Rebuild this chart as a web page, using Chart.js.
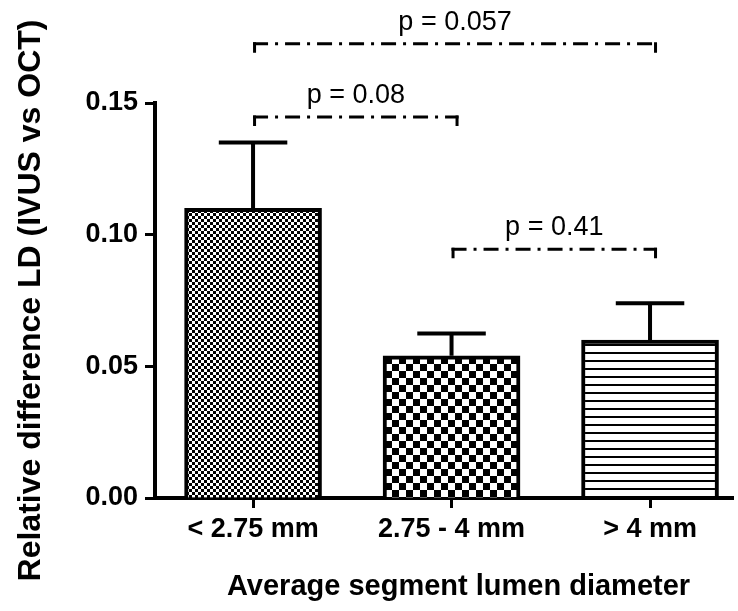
<!DOCTYPE html>
<html>
<head>
<meta charset="utf-8">
<script src="https://cdn.jsdelivr.net/npm/chart.js@4.4.0/dist/chart.umd.min.js"></script>
<style>
  html, body { margin: 0; padding: 0; background: #fff; }
</style>
</head>
<body>
<canvas id="myChart" width="738" height="611"></canvas>
<script>
var categorias = ['< 2.75 mm', '2.75 - 4 mm', '> 4 mm'];
var medias = [0.110, 0.054, 0.060];
var errores = [0.025, 0.0085, 0.014];
var yTicks = [0.00, 0.05, 0.10, 0.15];

// comparaciones entre grupos (indices de categoria), altura del corchete y texto
var pares = [[0, 1], [1, 2], [0, 2]];
var alturasP = [0.1447, 0.0945, 0.1725];
var textosP = ['p = 0.08', 'p = 0.41', 'p = 0.057'];
var tituloX = 'Average segment lumen diameter';

var fuente = "'Liberation Sans', Arial, sans-serif";
var ctx = document.getElementById('myChart');
var g = ctx.getContext('2d');

function patron(tipo) {
    var c = document.createElement('canvas');
    var p = c.getContext('2d');
    if (tipo === 'rayas') {
        c.width = 8; c.height = 8;
        p.fillStyle = '#fff'; p.fillRect(0, 0, 8, 8);
        p.fillStyle = '#000'; p.fillRect(0, 0, 8, 2);
    } else {
        var s = tipo === 'fino' ? 3 : 7;
        c.width = s * 2; c.height = s * 2;
        p.fillStyle = '#fff'; p.fillRect(0, 0, s * 2, s * 2);
        p.fillStyle = '#000';
        p.fillRect(0, 0, s, s);
        p.fillRect(s, s, s, s);
    }
    return g.createPattern(c, 'repeat');
}

// barras de error (solo hacia arriba), corchetes con valor p y titulo del eje x
var extras = {
    id: 'extras',
    afterDatasetsDraw: function(chart) {
        var c = chart.ctx, xs = chart.scales.x, ys = chart.scales.y;
        var meta = chart.getDatasetMeta(0);
        c.save();
        c.strokeStyle = '#000';
        c.lineWidth = 4;
        c.lineCap = 'butt';
        medias.forEach(function(m, i) {
            var bar = meta.data[i];
            var half = bar.width / 4;
            var tope = ys.getPixelForValue(m + errores[i]);
            c.beginPath();
            c.moveTo(bar.x, ys.getPixelForValue(m));
            c.lineTo(bar.x, tope);
            c.moveTo(bar.x - half, tope);
            c.lineTo(bar.x + half, tope);
            c.stroke();
        });

        c.lineWidth = 3;
        c.fillStyle = '#000';
        c.font = '27px ' + fuente;
        c.textAlign = 'center';
        c.textBaseline = 'alphabetic';
        pares.forEach(function(par, k) {
            var x1 = xs.getPixelForValue(par[0]);
            var x2 = xs.getPixelForValue(par[1]) + 7;
            var yy = ys.getPixelForValue(alturasP[k]);
            c.setLineDash([15, 7, 3, 7]);
            c.beginPath();
            c.moveTo(x1, yy);
            c.lineTo(x2, yy);
            c.stroke();
            c.setLineDash([]);
            c.beginPath();
            c.moveTo(x1 + 1.5, yy - 1.5); c.lineTo(x1 + 1.5, yy + 9);
            c.moveTo(x2 - 1.5, yy - 1.5); c.lineTo(x2 - 1.5, yy + 9);
            c.stroke();
            c.fillText(textosP[k], (x1 + x2) / 2, yy - 14);
        });

        c.font = 'bold 29px ' + fuente;
        c.fillText(tituloX, (xs.getPixelForValue(0) + xs.getPixelForValue(2)) / 2 + 7, 595);
        c.restore();
    }
};

var myBarChart = new Chart(ctx, {
    type: 'bar',
    data: {
        datasets: [{
            data: medias.map(function(v, i) { return {x: i, y: v}; }),
            backgroundColor: [patron('fino'), patron('grueso'), patron('rayas')],
            borderColor: '#000',
            borderWidth: 4,
            barThickness: 137
        }]
    },
    plugins: [extras],
    options: {
        responsive: false,
        animation: false,
        layout: { padding: { top: 103, right: 5, left: 0, bottom: 0 } },
        plugins: { legend: { display: false }, tooltip: { enabled: false } },
        scales: {
            x: {
                type: 'linear',
                offset: false,
                min: -0.494,
                max: 2.418,
                z: 1,
                afterFit: function(s) { s.height = 113; },
                afterBuildTicks: function(s) {
                    s.ticks = categorias.map(function(c, i) { return {value: i}; });
                },
                border: { display: true, color: '#000', width: 4 },
                grid: { display: true, offset: false, drawOnChartArea: false, drawTicks: true,
                        tickLength: 10, tickWidth: 3, tickColor: '#000' },
                ticks: {
                    autoSkip: false, maxRotation: 0, padding: 5, color: '#000',
                    font: { family: fuente, size: 27, weight: 'bold' },
                    callback: function(value) { return categorias[value]; }
                }
            },
            y: {
                min: 0,
                max: 0.15,
                z: 1,
                afterFit: function(s) { s.width = 155; },
                afterBuildTicks: function(s) {
                    s.ticks = yTicks.map(function(v) { return {value: v}; });
                },
                border: { display: true, color: '#000', width: 4 },
                grid: { display: true, drawOnChartArea: false, drawTicks: true,
                        tickLength: 10, tickWidth: 3, tickColor: '#000' },
                ticks: {
                    padding: 7, color: '#000',
                    font: { family: fuente, size: 27, weight: 'bold' },
                    callback: function(value) { return value.toFixed(2); }
                },
                title: {
                    display: true, text: 'Relative difference LD (IVUS vs OCT)', color: '#000',
                    font: { family: fuente, size: 32, weight: 'bold' },
                    padding: { top: 12, bottom: 0 }
                }
            }
        }
    }
});
</script>
</body>
</html>
